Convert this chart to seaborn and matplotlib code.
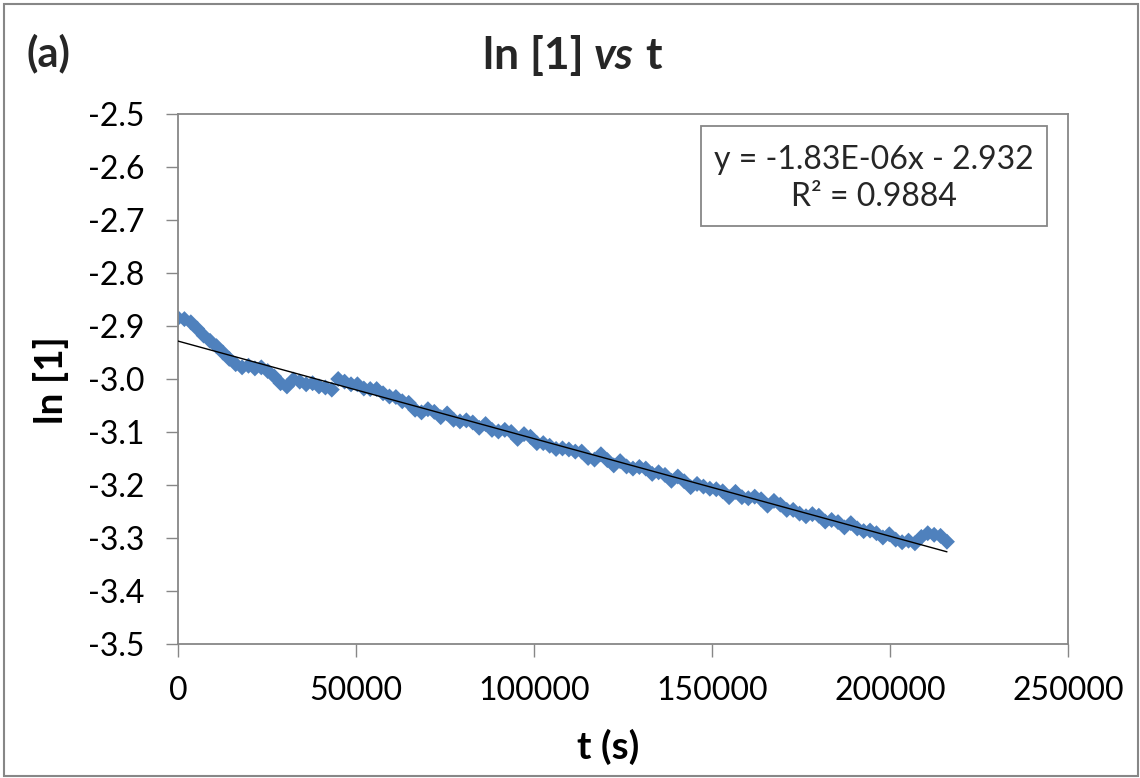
import matplotlib
matplotlib.use('Agg')
import matplotlib.pyplot as plt
import seaborn as sns
import pandas as pd
from matplotlib.patches import Rectangle

# ---------------- data ----------------
time_s = [0, 1800, 3600, 5400, 7200, 9000, 10800, 12600, 14400, 16200,
          18000, 19800, 21600, 23400, 25200, 27000, 28800, 30600, 32400, 34200,
          36000, 37800, 39600, 41400, 43200, 45000, 46800, 48600, 50400, 52200,
          54000, 55800, 57600, 59400, 61200, 63000, 64800, 66600, 68400, 70200,
          72000, 73800, 75600, 77400, 79200, 81000, 82800, 84600, 86400, 88200,
          90000, 91800, 93600, 95400, 97200, 99000, 100800, 102600, 104400, 106200,
          108000, 109800, 111600, 113400, 115200, 117000, 118800, 120600, 122400, 124200,
          126000, 127800, 129600, 131400, 133200, 135000, 136800, 138600, 140400, 142200,
          144000, 145800, 147600, 149400, 151200, 153000, 154800, 156600, 158400, 160200,
          162000, 163800, 165600, 167400, 169200, 171000, 172800, 174600, 176400, 178200,
          180000, 181800, 183600, 185400, 187200, 189000, 190800, 192600, 194400, 196200,
          198000, 199800, 201600, 203400, 205200, 207000, 208800, 210600, 212400, 214200,
          216000]
ln_conc = [-2.885, -2.887, -2.893, -2.905, -2.918, -2.928, -2.938, -2.950, -2.962, -2.972,
           -2.978, -2.975, -2.980, -2.978, -2.985, -2.995, -3.008, -3.014, -3.001, -3.005,
           -3.010, -3.008, -3.014, -3.016, -3.020, -3.000, -3.005, -3.010, -3.010, -3.018,
           -3.019, -3.019, -3.027, -3.033, -3.034, -3.042, -3.045, -3.058, -3.063, -3.057,
           -3.062, -3.072, -3.065, -3.077, -3.080, -3.078, -3.082, -3.092, -3.085, -3.096,
           -3.099, -3.096, -3.100, -3.113, -3.104, -3.109, -3.121, -3.121, -3.126, -3.132,
           -3.131, -3.133, -3.137, -3.137, -3.149, -3.152, -3.142, -3.153, -3.163, -3.155,
           -3.165, -3.169, -3.166, -3.169, -3.179, -3.176, -3.181, -3.192, -3.184, -3.193,
           -3.204, -3.198, -3.203, -3.207, -3.208, -3.212, -3.223, -3.213, -3.223, -3.225,
           -3.222, -3.227, -3.239, -3.230, -3.237, -3.247, -3.247, -3.254, -3.259, -3.255,
           -3.258, -3.269, -3.266, -3.270, -3.280, -3.272, -3.282, -3.287, -3.286, -3.291,
           -3.299, -3.293, -3.303, -3.308, -3.305, -3.310, -3.298, -3.291, -3.294, -3.296,
           -3.307]
x_ticks = [0, 50000, 100000, 150000, 200000, 250000]
x_tick_labels = ["0", "50000", "100000", "150000", "200000", "250000"]
y_ticks = [-3.5, -3.4, -3.3, -3.2, -3.1, -3.0, -2.9, -2.8, -2.7, -2.6, -2.5]
y_tick_labels = ["-3.5", "-3.4", "-3.3", "-3.2", "-3.1", "-3.0", "-2.9", "-2.8", "-2.7", "-2.6", "-2.5"]
equation_text = "y = -1.83E-06x - 2.932"
r2_text = "R\u00b2 = 0.9884"

# ---------------- style ----------------
sns.set_theme(style='white')
plt.rcParams['font.family'] = ['Lato', 'DejaVu Sans']

W, H = 1140, 778
fig = plt.figure(figsize=(W / 100, H / 100), dpi=100)
ax = fig.add_axes([178 / W, 1 - 644 / H, 890 / W, 530 / H])

df = pd.DataFrame({'t': time_s, 'ln1': ln_conc})
sns.scatterplot(data=df, x='t', y='ln1', marker='D', s=66, color='#4F81BD',
                edgecolor='none', linewidth=0, ax=ax, zorder=2, legend=False)
sns.regplot(data=df, x='t', y='ln1', scatter=False, ci=None, color='black',
            line_kws={'lw': 1.0, 'zorder': 3}, ax=ax)

ax.set_xlim(0, 250000)
ax.set_ylim(-3.5, -2.5)
ax.set_xticks(x_ticks)
ax.set_xticklabels(x_tick_labels)
ax.set_yticks(y_ticks)
ax.set_yticklabels(y_tick_labels)

gray = '#878787'
for sp in ax.spines.values():
    sp.set_visible(True)
    sp.set_color(gray)
    sp.set_linewidth(1.3)
ax.tick_params(axis='both', direction='out', length=9, width=1.0, color=gray,
               labelsize=23, labelcolor='black')
ax.tick_params(axis='y', pad=15, left=True)
ax.tick_params(axis='x', pad=14, bottom=True)

ax.set_xlabel('t (s)', fontsize=28, fontweight='bold', color='black')
ax.set_ylabel('ln [1]', fontsize=28, fontweight='bold', color='black')
ax.xaxis.set_label_coords((608 - 178) / 890, -(747 - 644) / 530)
ax.yaxis.set_label_coords(-(178 - 51) / 890, 1 - (380 - 114) / 530)
ax.xaxis.label.set_va('center')
ax.yaxis.label.set_va('center')

# equation box
bx0, bx1, by0, by1 = 701, 1047, 126, 226
ax.add_patch(Rectangle(((bx0 - 178) / 890, 1 - (by1 - 114) / 530),
                       (bx1 - bx0) / 890, (by1 - by0) / 530,
                       transform=ax.transAxes, fill=True, facecolor='white',
                       edgecolor=gray, lw=1.3, zorder=4))
cx = ((bx0 + bx1) / 2 - 178) / 890
ax.text(cx, 1 - (160 - 114) / 530, equation_text, transform=ax.transAxes,
        ha='center', va='center', fontsize=23, zorder=5)
ax.text(cx, 1 - (197 - 114) / 530, r2_text, transform=ax.transAxes,
        ha='center', va='center', fontsize=23, zorder=5)

# panel label
fig.text(27 / W, 1 - 53 / H, '(a)', fontsize=30, fontweight='bold',
         ha='left', va='center')

# title with italic 'vs'
title_y = 1 - 56 / H
fs_t = 32
parts = [('ln [1]', 'normal'), ('vs', 'italic'), ('t', 'normal')]
fig.canvas.draw()
rend = fig.canvas.get_renderer()
def width_of(s, style):
    tt = fig.text(0, 0, s, fontsize=fs_t, fontweight='bold', fontstyle=style)
    w = tt.get_window_extent(rend).width
    tt.remove()
    return w
space = width_of('a a', 'normal') - width_of('aa', 'normal')
widths = [width_of(s, st) for s, st in parts]
total = sum(widths) + space * (len(parts) - 1)
x = 572 - total / 2
for (s, st), w in zip(parts, widths):
    fig.text(x / W, title_y, s, fontsize=fs_t, fontweight='bold', fontstyle=st,
             ha='left', va='center')
    x += w + space

# outer chart border
fig.add_artist(Rectangle((4 / W, 1 - 776 / H), (1138 - 4) / W, (776 - 4) / H,
                         transform=fig.transFigure, fill=False,
                         edgecolor=gray, lw=1.5))

fig.savefig('out.png', dpi=100, facecolor='white')
